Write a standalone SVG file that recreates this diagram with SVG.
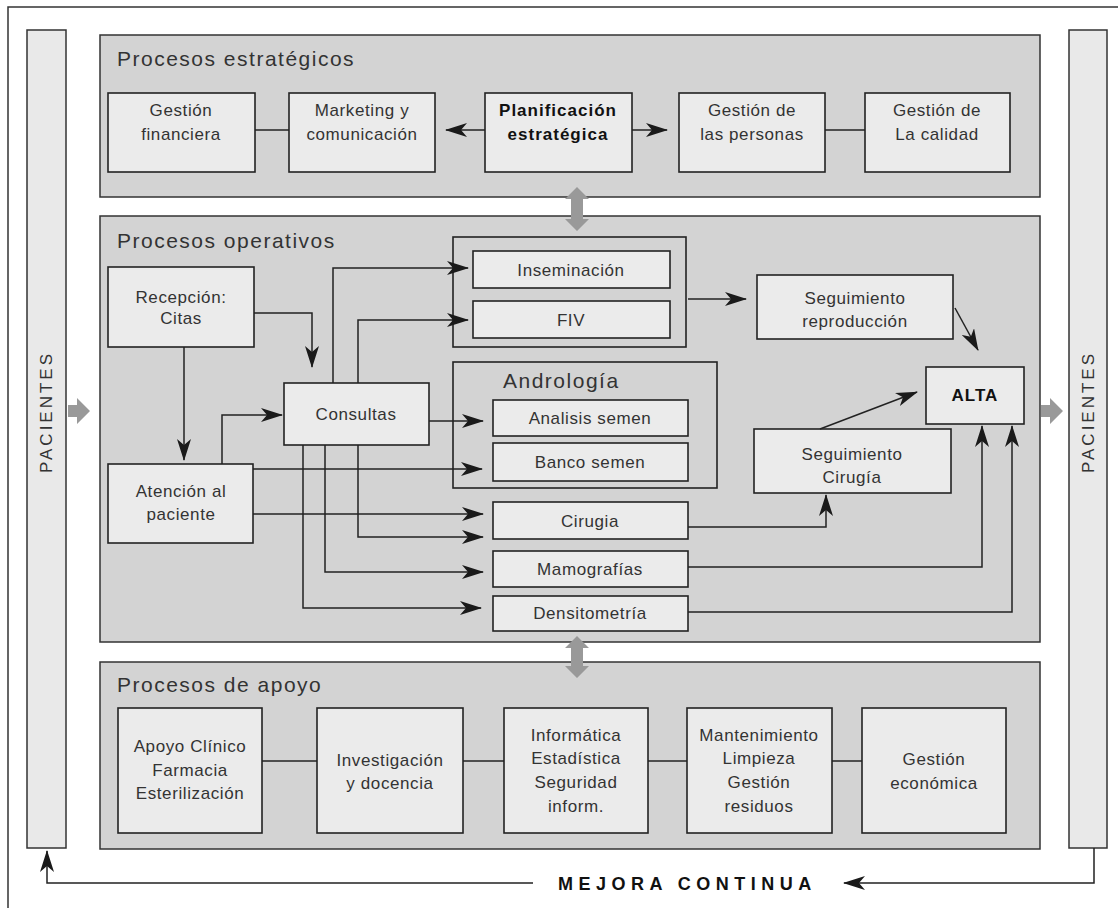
<svg xmlns="http://www.w3.org/2000/svg" width="1118" height="908" viewBox="0 0 1118 908">
<defs>
<style>
.panel{fill:#d3d3d3;stroke:#333;stroke-width:1.5}
.box{fill:#ebebeb;stroke:#222;stroke-width:1.6}
.bar{fill:#e9e9e9;stroke:#333;stroke-width:1.5}
.t{font-family:"Liberation Sans",Arial,sans-serif;font-size:17px;fill:#333;text-anchor:middle;letter-spacing:0.6px}
.b{font-weight:bold;fill:#111;letter-spacing:1px}
.title{font-family:"Liberation Sans",Arial,sans-serif;font-size:21px;fill:#333;letter-spacing:1.5px}
.pac{font-family:"Liberation Sans",Arial,sans-serif;font-size:17px;fill:#333;text-anchor:middle;letter-spacing:3px}
.mc{font-family:"Liberation Sans",Arial,sans-serif;font-size:18px;font-weight:bold;fill:#111;letter-spacing:5.5px}
.c{fill:none;stroke:#222;stroke-width:1.5}
.a{marker-end:url(#ah)}
.g{fill:#999}
</style>
<marker id="ah" viewBox="0 0 22 14" refX="21" refY="7" markerWidth="22" markerHeight="14" markerUnits="userSpaceOnUse" orient="auto">
<path d="M0,0 L22,7 L0,14 L6,7 z" fill="#1a1a1a"/>
</marker>
</defs>
<rect width="1118" height="908" fill="#fff"/>
<path d="M8,908 V7 H1118" fill="none" stroke="#333" stroke-width="1.5"/>

<g id="pacientes-left">
<rect class="bar" x="27" y="30" width="39" height="818"/>
<text class="pac" transform="translate(52,412) rotate(-90)">PACIENTES</text>
</g>
<g id="pacientes-right">
<rect class="bar" x="1069" y="30" width="38" height="818"/>
<text class="pac" transform="translate(1094,412) rotate(-90)">PACIENTES</text>
</g>

<g id="estrategicos">
<rect class="panel" x="100" y="35" width="940" height="162"/>
<text class="title" x="117" y="66">Procesos estratégicos</text>
</g>
<g id="operativos">
<rect class="panel" x="100" y="216" width="940" height="426"/>
<text class="title" x="117" y="248">Procesos operativos</text>
</g>
<g id="apoyo">
<rect class="panel" x="100" y="662" width="940" height="187"/>
<text class="title" x="117" y="692">Procesos de apoyo</text>
</g>

<g id="gestion-financiera"><rect class="box" x="108" y="93" width="147" height="79"/><text class="t" x="181" y="116">Gestión</text><text class="t" x="181" y="140">financiera</text></g>
<g id="marketing"><rect class="box" x="289" y="93" width="146" height="79"/><text class="t" x="362" y="116">Marketing y</text><text class="t" x="362" y="140">comunicación</text></g>
<g id="planificacion"><rect class="box" x="485" y="93" width="147" height="79"/><text class="t b" x="558" y="116">Planificación</text><text class="t b" x="558" y="140">estratégica</text></g>
<g id="personas"><rect class="box" x="679" y="93" width="146" height="79"/><text class="t" x="752" y="116">Gestión de</text><text class="t" x="752" y="140">las personas</text></g>
<g id="calidad"><rect class="box" x="865" y="93" width="145" height="79"/><text class="t" x="937" y="116">Gestión de</text><text class="t" x="937" y="140">La calidad</text></g>

<g id="recepcion"><rect class="box" x="108" y="267" width="146" height="80"/><text class="t" x="181" y="303">Recepción:</text><text class="t" x="181" y="324">Citas</text></g>
<g id="atencion"><rect class="box" x="108" y="464" width="145" height="79"/><text class="t" x="181" y="497">Atención al</text><text class="t" x="181" y="520">paciente</text></g>
<g id="consultas"><rect class="box" x="284" y="383" width="145" height="62"/><text class="t" x="356" y="420">Consultas</text></g>
<g id="reproduccion-grupo"><rect class="box" x="453" y="237" width="233" height="110" style="fill:#d3d3d3"/></g>
<g id="inseminacion"><rect class="box" x="473" y="251" width="197" height="37"/><text class="t" x="571" y="276">Inseminación</text></g>
<g id="fiv"><rect class="box" x="473" y="301" width="197" height="37"/><text class="t" x="571" y="326">FIV</text></g>
<g id="andrologia"><rect class="box" x="453" y="362" width="264" height="126" style="fill:#d3d3d3"/><text class="title" x="503" y="388">Andrología</text></g>
<g id="analisis-semen"><rect class="box" x="493" y="400" width="195" height="36"/><text class="t" x="590" y="424">Analisis semen</text></g>
<g id="banco-semen"><rect class="box" x="493" y="443" width="195" height="38"/><text class="t" x="590" y="468">Banco semen</text></g>
<g id="cirugia"><rect class="box" x="493" y="502" width="195" height="37"/><text class="t" x="590" y="527">Cirugia</text></g>
<g id="mamografias"><rect class="box" x="493" y="551" width="195" height="36"/><text class="t" x="590" y="575">Mamografías</text></g>
<g id="densitometria"><rect class="box" x="493" y="596" width="195" height="35"/><text class="t" x="590" y="619">Densitometría</text></g>
<g id="seguimiento-reproduccion"><rect class="box" x="757" y="275" width="196" height="64"/><text class="t" x="855" y="304">Seguimiento</text><text class="t" x="855" y="327">reproducción</text></g>
<g id="alta"><rect class="box" x="926" y="367" width="98" height="57"/><text class="t b" x="975" y="401">ALTA</text></g>
<g id="seguimiento-cirugia"><rect class="box" x="754" y="429" width="197" height="64"/><text class="t" x="852" y="460">Seguimiento</text><text class="t" x="852" y="483">Cirugía</text></g>

<g id="apoyo-clinico"><rect class="box" x="118" y="708" width="144" height="125"/><text class="t" x="190" y="752">Apoyo Clínico</text><text class="t" x="190" y="776">Farmacia</text><text class="t" x="190" y="799">Esterilización</text></g>
<g id="investigacion"><rect class="box" x="317" y="708" width="146" height="125"/><text class="t" x="390" y="766">Investigación</text><text class="t" x="390" y="789">y docencia</text></g>
<g id="informatica"><rect class="box" x="504" y="708" width="144" height="125"/><text class="t" x="576" y="741">Informática</text><text class="t" x="576" y="764">Estadística</text><text class="t" x="576" y="788">Seguridad</text><text class="t" x="576" y="812">inform.</text></g>
<g id="mantenimiento"><rect class="box" x="687" y="708" width="145" height="125"/><text class="t" x="759" y="741">Mantenimiento</text><text class="t" x="759" y="764">Limpieza</text><text class="t" x="759" y="788">Gestión</text><text class="t" x="759" y="812">residuos</text></g>
<g id="gestion-economica"><rect class="box" x="862" y="708" width="144" height="125"/><text class="t" x="934" y="765">Gestión</text><text class="t" x="934" y="789">económica</text></g>

<g id="gray-arrows">
<polygon class="g" points="68,405 77,405 77,398 90,411 77,424 77,417 68,417"/>
<polygon class="g" points="1041,405 1050,405 1050,398 1063,411 1050,424 1050,417 1041,417"/>
<polygon class="g" points="577,187 589,199 583,199 583,219 589,219 577,231 565,219 571,219 571,199 565,199"/>
<polygon class="g" points="577,636 589,648 583,648 583,666 589,666 577,678 565,666 571,666 571,648 565,648"/>
</g>

<g id="connectors">
<path class="c" d="M255,130 H289"/>
<path class="c a" d="M485,130 H446"/>
<path class="c a" d="M632,130 H667"/>
<path class="c" d="M825,130 H865"/>

<path class="c a" d="M254,313 H312 V367"/>
<path class="c a" d="M184,347 V460"/>
<path class="c a" d="M222,464 V415 H282"/>
<path class="c a" d="M333,383 V268 H468"/>
<path class="c a" d="M358,383 V320 H468"/>
<path class="c a" d="M429,421 H483"/>
<path class="c a" d="M253,469 H482"/>
<path class="c a" d="M253,514 H483"/>
<path class="c a" d="M358,445 V537 H483"/>
<path class="c a" d="M325,445 V572 H483"/>
<path class="c a" d="M303,445 V608 H481"/>
<path class="c a" d="M688,299 H746"/>
<path class="c a" d="M955,308 L978,350"/>
<path class="c a" d="M820,429 L917,392"/>
<path class="c a" d="M688,527 H826 V495"/>
<path class="c a" d="M688,567 H982 V426"/>
<path class="c a" d="M688,612 H1012 V426"/>

<path class="c" d="M262,761 H317"/>
<path class="c" d="M463,761 H504"/>
<path class="c" d="M648,761 H687"/>
<path class="c" d="M832,761 H862"/>

<path class="c a" d="M1094,848 V883 H844"/>
<path class="c a" d="M533,883 H47 V851"/>
</g>
<text class="mc" x="558" y="890">MEJORA CONTINUA</text>
</svg>
